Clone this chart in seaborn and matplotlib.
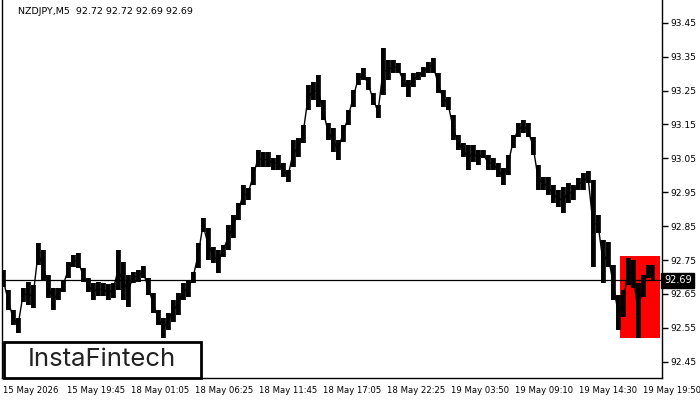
import numpy as np
import matplotlib
matplotlib.use('Agg')
import matplotlib.pyplot as plt
from matplotlib.patches import Rectangle
import seaborn as sns

symbol = 'NZDJPY,M5'
last_ohlc = ['92.72', '92.72', '92.69', '92.69']
last_price = 92.69

# high / low of each 25 min block (5 bars of M5)
highs = [92.720, 92.662, 92.602, 92.579, 92.667, 92.685, 92.676, 92.800, 92.779, 92.706,
         92.667, 92.667, 92.691, 92.744, 92.765, 92.771, 92.726, 92.697, 92.682, 92.685,
         92.682, 92.679, 92.682, 92.779, 92.744, 92.706, 92.715, 92.720, 92.732, 92.697,
         92.653, 92.602, 92.579, 92.594, 92.632, 92.653, 92.682, 92.691, 92.715, 92.800,
         92.874, 92.844, 92.788, 92.779, 92.794, 92.853, 92.883, 92.918, 92.971, 92.962,
         93.024, 93.075, 93.069, 93.069, 93.051, 93.060, 93.036, 93.016, 93.104, 93.110,
         93.148, 93.266, 93.275, 93.296, 93.222, 93.154, 93.139, 93.104, 93.148, 93.192,
         93.252, 93.302, 93.316, 93.290, 93.243, 93.207, 93.375, 93.340, 93.340, 93.331,
         93.302, 93.281, 93.302, 93.305, 93.319, 93.334, 93.346, 93.302, 93.252, 93.231,
         93.178, 93.119, 93.095, 93.089, 93.089, 93.075, 93.075, 93.060, 93.051, 93.036,
         93.021, 93.060, 93.119, 93.154, 93.163, 93.154, 93.113, 93.030, 92.995, 92.995,
         92.971, 92.956, 92.965, 92.977, 92.971, 92.992, 93.007, 93.013, 92.986, 92.883,
         92.809, 92.803, 92.735, 92.647, 92.662, 92.756, 92.750, 92.682, 92.706, 92.735,
         92.735]
lows = [92.670, 92.602, 92.558, 92.535, 92.626, 92.617, 92.608, 92.735, 92.691, 92.638,
        92.602, 92.632, 92.656, 92.697, 92.729, 92.726, 92.685, 92.656, 92.632, 92.644,
        92.644, 92.632, 92.638, 92.662, 92.632, 92.611, 92.682, 92.685, 92.697, 92.647,
        92.594, 92.558, 92.520, 92.544, 92.567, 92.588, 92.632, 92.641, 92.682, 92.726,
        92.833, 92.750, 92.741, 92.712, 92.759, 92.779, 92.815, 92.868, 92.912, 92.927,
        92.971, 93.024, 93.024, 93.024, 93.016, 93.016, 92.995, 92.980, 93.024, 93.054,
        93.095, 93.192, 93.222, 93.201, 93.163, 93.104, 93.069, 93.045, 93.098, 93.148,
        93.201, 93.266, 93.281, 93.252, 93.207, 93.169, 93.237, 93.281, 93.302, 93.302,
        93.260, 93.231, 93.260, 93.281, 93.290, 93.302, 93.302, 93.243, 93.201, 93.192,
        93.104, 93.075, 93.054, 93.016, 93.039, 93.030, 93.051, 93.016, 93.016, 92.995,
        92.971, 93.001, 93.080, 93.113, 93.125, 93.113, 93.060, 92.956, 92.956, 92.942,
        92.918, 92.906, 92.889, 92.918, 92.927, 92.956, 92.956, 92.977, 92.729, 92.830,
        92.682, 92.729, 92.632, 92.544, 92.582, 92.676, 92.667, 92.520, 92.641, 92.697,
        92.691]
bars_per_block = 5

tick_labels = ['15 May 2026', '15 May 19:45', '18 May 01:05', '18 May 06:25', '18 May 11:45',
               '18 May 17:05', '18 May 22:25', '19 May 03:50', '19 May 09:10', '19 May 14:30',
               '19 May 19:50']
bars_per_tick = 64
price_ticks = [92.45, 92.55, 92.65, 92.75, 92.85, 92.95, 93.05, 93.15, 93.25, 93.35, 93.45]

# pattern zone (red box)
zone_bars = (617, 657)
zone_prices = (92.521, 92.762)

sns.set_style('white')
plt.rcParams['font.family'] = ['DejaVu Sans']

highs = np.array(highs)
lows = np.array(lows)
bars = np.arange(len(highs)) * bars_per_block
mids = (highs + lows) / 2

fig = plt.figure(figsize=(7, 4), dpi=100)
ax = fig.add_axes([2 / 700, 22 / 400, 660 / 700, 378 / 400])

ax.add_patch(Rectangle((zone_bars[0], zone_prices[0]), zone_bars[1] - zone_bars[0],
                       zone_prices[1] - zone_prices[0], facecolor='#ff0000',
                       edgecolor='none', zorder=1))
ax.axhline(last_price, color='black', lw=0.9, zorder=2)

ax.vlines(bars, lows, highs, color='black', lw=2.6, zorder=3)
ax.fill_between(bars, lows, highs, step='mid', color='black', lw=0, alpha=0.85, zorder=3)
sns.lineplot(x=bars, y=mids, ax=ax, color='black', lw=1.0, zorder=3)

ax.set_xlim(-1, 659)
ax.set_ylim(92.402, 93.517)

ax.set_xticks(np.arange(len(tick_labels)) * bars_per_tick)
ax.set_xticklabels(tick_labels, ha='left', fontsize=6.1)
ax.tick_params(axis='x', direction='out', length=4, width=1, pad=2, colors='black')
ax.yaxis.tick_right()
ax.set_yticks(price_ticks)
ax.set_yticklabels([f'{p:.2f}' for p in price_ticks], fontsize=6.6)
ax.tick_params(axis='y', direction='out', length=4, width=1, pad=2, colors='black')

for side in ['left', 'bottom', 'right']:
    ax.spines[side].set_visible(True)
    ax.spines[side].set_color('black')
    ax.spines[side].set_linewidth(1)
ax.spines['top'].set_visible(False)

ax.text(1.003, last_price, f'{last_price:.2f}', transform=ax.get_yaxis_transform(),
        ha='left', va='center', fontsize=7, color='white',
        bbox=dict(boxstyle='square,pad=0.28', facecolor='black', edgecolor='black'))

fig.text(18 / 700, 1 - 11 / 400, f"{symbol}  {' '.join(last_ohlc)}", fontsize=6.8,
         ha='left', va='center', color='black')

# logo box
fig.patches.append(Rectangle((4 / 700, 22 / 400), 197 / 700, 36 / 400,
                             transform=fig.transFigure, facecolor='white',
                             edgecolor='black', lw=2, zorder=10))
fig.text(102 / 700, 1 - 359 / 400, 'InstaFintech', fontsize=18.5, family='Inter',
         fontweight='normal', ha='center', va='center', color='#222222', zorder=11)

fig.savefig('out.png', dpi=100)
